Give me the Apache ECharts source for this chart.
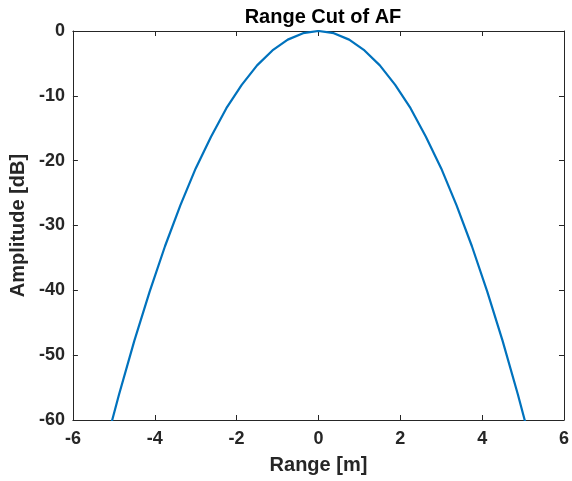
<!DOCTYPE html>
<html>
<head>
<meta charset="utf-8">
<script src="https://cdn.jsdelivr.net/npm/echarts@6/dist/echarts.min.js"></script>
<style>html,body{margin:0;padding:0;background:#fff}#c{width:572px;height:481px}</style>
</head>
<body>
<div id="c"></div>
<script>
var rangeM = [-5.625,-5.25,-4.875,-4.5,-4.125,-3.75,-3.375,-3.0,-2.625,-2.25,-1.875,-1.5,-1.125,-0.75,-0.375,0,0.375,0.75,1.125,1.5,1.875,2.25,2.625,3.0,3.375,3.75,4.125,4.5,4.875,5.25,5.625];
var amplitudeDb = [-74.7,-65.0,-56.1,-47.8,-40.2,-33.2,-26.9,-21.2,-16.3,-11.9,-8.3,-5.3,-3.0,-1.33,-0.33,0,-0.33,-1.33,-3.0,-5.3,-8.3,-11.9,-16.3,-21.2,-26.9,-33.2,-40.2,-47.8,-56.1,-65.0,-74.7];
var xTicks = [-6,-4,-2,0,2,4,6];
var yTicks = [-60,-50,-40,-30,-20,-10,0];

var chart = echarts.init(document.getElementById('c'), null, {renderer:'canvas'});
var axisCol = '#262626';
var font = 'Liberation Sans, Arial, Helvetica, sans-serif';
var pts = rangeM.map(function(x,i){return [x, amplitudeDb[i]];});
function baseAxis(extra){
  return Object.assign({
    type:'value',
    axisLine:{show:true,onZero:false,lineStyle:{color:axisCol,width:1}},
    axisTick:{show:true,inside:true,length:5,lineStyle:{color:axisCol,width:1}},
    splitLine:{show:false},
    axisLabel:{color:axisCol,fontFamily:font,fontWeight:'bold',fontSize:18}
  }, extra);
}
chart.setOption({
  animation:false,
  backgroundColor:'#fff',
  title:{text:'Range Cut of AF',left:318,top:2,textAlign:'center',
    textStyle:{fontFamily:font,fontWeight:'bold',fontSize:20,color:'#000'}},
  grid:{left:69,top:31,width:498,height:389},
  xAxis:[
    baseAxis({min:xTicks[0],max:xTicks[xTicks.length-1],interval:2,position:'bottom',
      name:'Range [m]',nameLocation:'middle',nameGap:35,
      nameTextStyle:{fontFamily:font,fontWeight:'bold',fontSize:20,color:axisCol},
      axisLabel:{color:axisCol,fontFamily:font,fontWeight:'bold',fontSize:18,margin:10}}),
    baseAxis({min:-6,max:6,interval:2,position:'top',axisLabel:{show:false}})
  ],
  yAxis:[
    baseAxis({min:yTicks[0],max:yTicks[yTicks.length-1],interval:10,position:'left',
      name:'Amplitude [dB]',nameLocation:'middle',nameGap:40,
      nameTextStyle:{fontFamily:font,fontWeight:'bold',fontSize:20,color:axisCol},
      axisLabel:{color:axisCol,fontFamily:font,fontWeight:'bold',fontSize:18,margin:8}}),
    baseAxis({min:-60,max:0,interval:10,position:'right',axisLabel:{show:false}})
  ],
  series:[{
    type:'line',data:pts,xAxisIndex:0,yAxisIndex:0,
    showSymbol:false,clip:true,smooth:false,
    lineStyle:{color:'#0072BD',width:2.2}
  }]
});
</script>
</body>
</html>
